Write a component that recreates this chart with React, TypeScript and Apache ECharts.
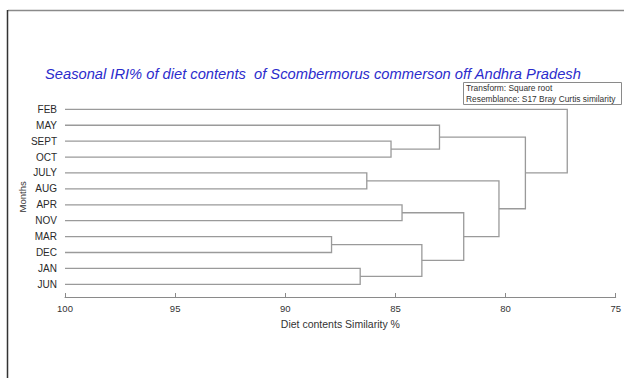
import React, { useEffect, useRef } from "react";
import * as echarts from "echarts";

// Leaves of the dendrogram, top to bottom
const months = ["FEB", "MAY", "SEPT", "OCT", "JULY", "AUG", "APR", "NOV", "MAR", "DEC", "JAN", "JUN"];

// Agglomeration steps: node ids 0..11 are months, each step creates node 12, 13, ...
const mergeA = [8, 10, 4, 2, 6, 12, 1, 16, 14, 18, 0];
const mergeB = [9, 11, 5, 3, 7, 13, 15, 17, 19, 20, 21];
const mergeSimilarity = [87.9, 86.6, 86.3, 85.2, 84.7, 83.8, 83.0, 81.9, 80.3, 79.1, 77.2];

const xTicks = [100, 95, 90, 85, 80, 75];

const titleText = "Seasonal IRI% of diet contents  of Scombermorus commerson off Andhra Pradesh";
const noteLines = ["Transform: Square root", "Resemblance: S17 Bray Curtis similarity"];

function buildLinks() {
  const nodeX: number[] = months.map(() => 100);
  const nodeY: number[] = months.map((_, i) => i);
  const links: number[][] = [];
  mergeA.forEach((a, i) => {
    const b = mergeB[i];
    const lvl = mergeSimilarity[i];
    links.push([nodeX[a], nodeY[a], lvl, nodeY[b], nodeX[b]]);
    nodeX.push(lvl);
    nodeY.push((nodeY[a] + nodeY[b]) / 2);
  });
  return links;
}

export default function App() {
  const ref = useRef<HTMLDivElement>(null);

  useEffect(() => {
    if (!ref.current) return;
    const chart = echarts.init(ref.current, null, { renderer: "svg" });
    const font = "Liberation Sans, Arial, sans-serif";
    const links = buildLinks();

    chart.setOption({
      animation: false,
      backgroundColor: "#ffffff",
      textStyle: { fontFamily: font },
      title: {
        text: titleText,
        left: 45,
        top: 66,
        padding: 0,
        textStyle: {
          fontFamily: font,
          fontSize: 14.7,
          lineHeight: 16,
          fontStyle: "italic",
          fontWeight: "normal",
          color: "#2b2bcc",
        },
      },
      grid: { left: 65, right: 7, top: 101.4, bottom: 85.75 },
      xAxis: {
        type: "value",
        inverse: true,
        min: 75,
        max: 100,
        interval: 5,
        offset: 4.75,
        name: "Diet contents Similarity %",
        nameLocation: "middle",
        nameGap: 21,
        nameTextStyle: { fontSize: 10.5, color: "#333", fontFamily: font },
        axisLine: { onZero: false, lineStyle: { color: "#8a8a8a", width: 1 } },
        axisTick: { inside: true, length: 4, lineStyle: { color: "#8a8a8a" } },
        axisLabel: {
          fontSize: 9.5,
          color: "#333",
          margin: 6,
          formatter: (v: number) => (xTicks.includes(v) ? String(v) : ""),
        },
        splitLine: { show: false },
      },
      yAxis: [
        {
          type: "category",
          inverse: true,
          data: months,
          name: "Months",
          nameLocation: "middle",
          nameRotate: 90,
          nameGap: 38,
          nameMoveOverlap: false,
          nameTextStyle: { fontSize: 9.5, color: "#333", fontFamily: font },
          axisLine: { show: false },
          axisTick: { show: false },
          axisLabel: { fontSize: 10, color: "#2a2a2a", margin: 8, fontFamily: font },
          splitLine: { show: false },
        },
        {
          type: "value",
          inverse: true,
          min: -0.5,
          max: 11.5,
          show: false,
          splitLine: { show: false },
        },
      ],
      series: [
        {
          type: "custom",
          xAxisIndex: 0,
          yAxisIndex: 1,
          data: links,
          encode: { x: [0, 2, 4], y: [1, 3] },
          renderItem: (_params: any, api: any) => {
            const xa = api.value(0);
            const ya = api.value(1);
            const lvl = api.value(2);
            const yb = api.value(3);
            const xb = api.value(4);
            return {
              type: "polyline",
              shape: {
                points: [
                  api.coord([xa, ya]),
                  api.coord([lvl, ya]),
                  api.coord([lvl, yb]),
                  api.coord([xb, yb]),
                ],
              },
              style: { stroke: "#9a9a9a", lineWidth: 1.3, fill: "none" },
            };
          },
        },
      ],
      graphic: [
        // page frame
        { type: "line", shape: { x1: 8, y1: 10.5, x2: 624, y2: 10.5 }, style: { stroke: "#8a8a8a", lineWidth: 1.5 } },
        { type: "line", shape: { x1: 7.5, y1: 10, x2: 7.5, y2: 378 }, style: { stroke: "#333", lineWidth: 1.5 } },
        // transform / resemblance note
        {
          type: "rect",
          shape: { x: 463.5, y: 82.5, width: 158, height: 22 },
          style: { fill: "#fff", stroke: "#8a8a8a", lineWidth: 1 },
        },
        {
          type: "text",
          x: 466,
          y: 88,
          style: { text: noteLines[0], fontSize: 8.4, fill: "#333", fontFamily: font, verticalAlign: "middle" },
        },
        {
          type: "text",
          x: 466,
          y: 99,
          style: { text: noteLines[1], fontSize: 8.4, fill: "#333", fontFamily: font, verticalAlign: "middle" },
        },
      ],
    });

    return () => chart.dispose();
  }, []);

  return (
    <div
      ref={ref}
      style={{ position: "fixed", left: 0, top: 0, width: 624, height: 378, background: "#fff" }}
    />
  );
}
